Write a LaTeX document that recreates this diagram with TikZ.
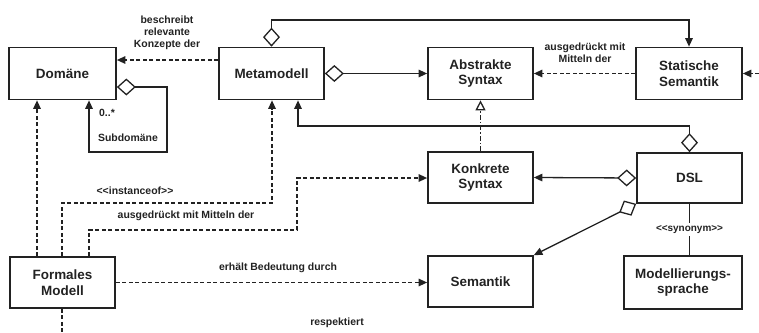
\documentclass[tikz,border=0pt]{standalone}
\usepackage{fontspec}
\setmainfont{Liberation Sans}
\usetikzlibrary{arrows.meta}
\definecolor{ink}{HTML}{222222}
\tikzset{
  box/.style={draw=ink, line width=1.7bp, rectangle, minimum width=105bp, minimum height=52bp,
    align=center, text=ink, font=\fontsize{13.5}{16}\selectfont\bfseries, inner sep=2bp},
  lbl/.style={text=ink, font=\fontsize{10.5}{12}\selectfont\bfseries, align=center, inner sep=1bp},
  small/.style={text=ink, font=\fontsize{10}{11}\selectfont\bfseries, align=center, inner sep=1bp},
  conn/.style={draw=ink, line width=1.3bp},
  tip/.style={-{Triangle[length=8.5bp,width=7.5bp]}},
  dep/.style={conn, dash pattern=on 4bp off 2.5bp, tip},
  agg/.style={conn, {Diamond[open,length=19bp,width=17bp,line width=1.3bp]}-{Triangle[length=8.5bp,width=7.5bp]}},
  gen/.style={conn, dash pattern=on 5bp off 2bp on 1.5bp off 2bp, -{Triangle[open,length=10bp,width=10bp,line width=1.3bp]}}
}
\begin{document}
\begin{tikzpicture}[x=1bp,y=-1bp]
\useasboundingbox (0,0) rectangle (759,332);
\node[box, minimum width=107bp] (dom) at (62.5,73.5) {Domäne};
\node[box] (meta) at (271.5,73.5) {Metamodell};
\node[box] (abs) at (480.5,73.5) {Abstrakte\\Syntax};
\node[box, minimum width=106bp] (stat) at (689,73.5) {Statische\\Semantik};
\node[box, minimum height=51bp] (kon) at (480.5,177.5) {Konkrete\\Syntax};
\node[box, minimum height=50bp] (dsl) at (689.5,178) {DSL};
\node[box, minimum height=51bp] (sem) at (480.5,281.5) {Semantik};
\node[box, minimum width=118bp, minimum height=53bp] (mod) at (683,282.5) {Modellierungs-\\sprache};
\node[box, minimum height=51bp] (form) at (62.5,282.5) {Formales\\Modell};
\coordinate (ext) at (759,73.5);
\coordinate (bot) at (62,332);

% Metamodell -> Domaene
\draw[dep] (meta.west |- 0,60) -- (dom.east |- 0,60);
\node[lbl] at (167,33) {beschreibt\\relevante\\Konzepte der};
% Subdomaene
\draw[agg] (dom.east |- 0,87) -- (167,87) -- (167,152) -- (89,152) -- (dom.south -| 89,0);
\node[lbl] at (107,113) {0..*};
\node[lbl] at (128,138) {Subdomäne};
% Metamodell -> Abstrakte Syntax
\draw[agg] (meta.east) -- (abs.west);
% Metamodell -> Statische Semantik (top)
\draw[agg] (meta.north) -- (meta.north |- 0,20) -- (stat.north |- 0,20) -- (stat.north);
% Statische -> Abstrakte
\draw[dep] (stat.west) -- (abs.east);
\node[lbl] at (585,53) {ausgedrückt mit\\Mitteln der};
% external -> Statische
\draw[dep] (ext) -- (stat.east);
% Konkrete -> Abstrakte
\draw[gen] (kon.north) -- (abs.south);
% DSL -> Metamodell
\draw[agg] (dsl.north) -- (dsl.north |- 0,126) -- (298,126) -- (meta.south -| 298,0);
% DSL -> Konkrete
\draw[agg] (dsl.west) -- (kon.east);
% DSL -> Semantik
\draw[agg] (dsl.south west) -- (sem.north east);
% DSL -- Modellierungssprache
\draw[conn] (dsl.south) -- (dsl.south |- mod.north) node[small, fill=white, midway, inner sep=2bp] {<{}<synonym>{}>};
% Formales -> Domaene
\draw[dep] (form.north -| 37,0) -- (dom.south -| 37,0);
% instanceof
\draw[dep] (form.north -| 62,0) -- (62,203) -- (272,203) -- (meta.south -| 272,0);
\node[lbl] at (135,191) {<{}<instanceof>{}>};
% ausgedrueckt mit Mitteln der
\draw[dep] (form.north -| 89,0) -- (89,230) -- (297,230) -- (297,178) -- (kon.west |- 0,178);
\node[lbl] at (186,216) {ausgedrückt mit Mitteln der};
% erhaelt Bedeutung
\draw[dep] (form.east) -- (sem.west |- form.east);
\node[lbl] at (278,268) {erhält Bedeutung durch};
% respektiert
\draw[conn, dash pattern=on 4bp off 2.5bp] (form.south -| 62,0) -- (bot);
\node[lbl] at (337,323) {respektiert};
\end{tikzpicture}
\end{document}
